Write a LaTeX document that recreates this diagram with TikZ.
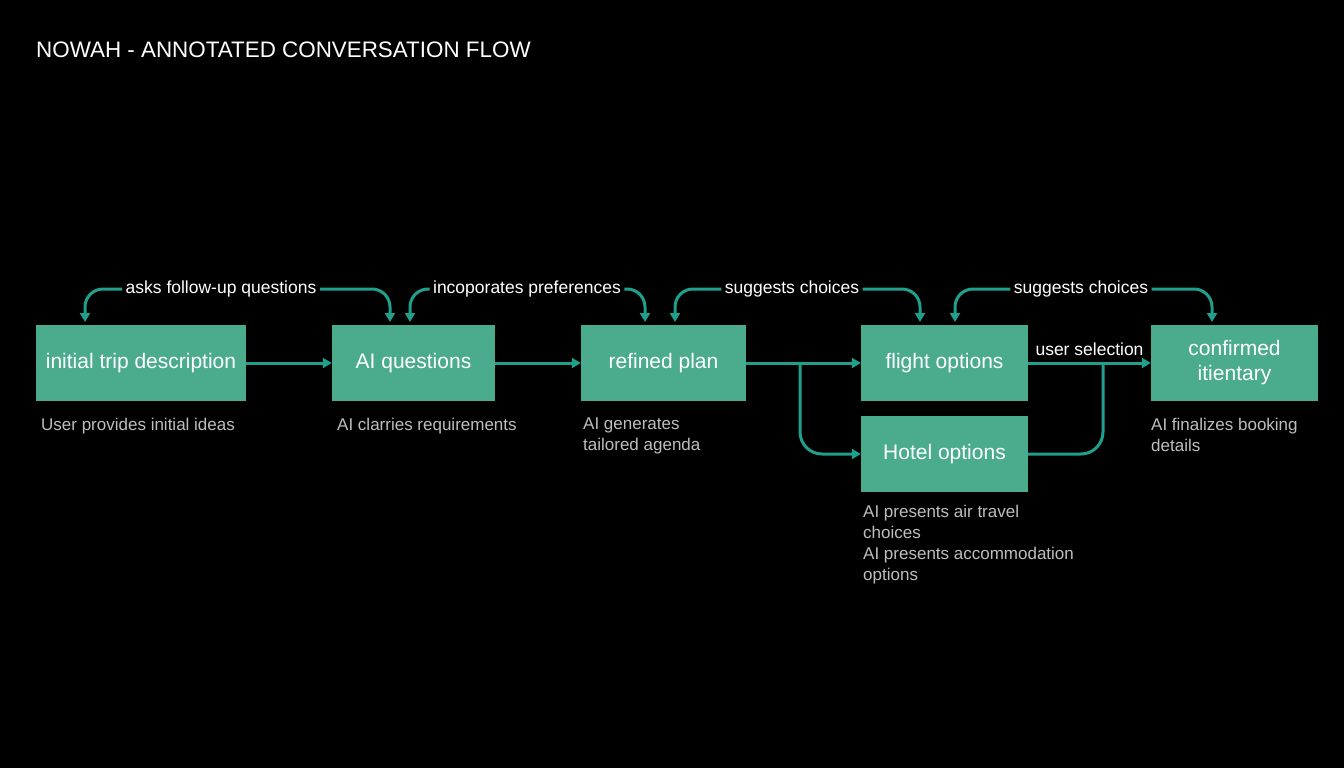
\documentclass[tikz,border=0pt]{standalone}
\usepackage{fontspec}
\setmainfont{Liberation Sans}
\usetikzlibrary{arrows.meta}
\definecolor{boxg}{RGB}{74,172,140}
\definecolor{arr}{RGB}{32,160,140}
\definecolor{desc}{RGB}{190,190,190}
\begin{document}
\begin{tikzpicture}[x=1pt,y=-1pt,
 box/.style={fill=boxg,text=white,minimum height=76pt,align=center,font=\fontsize{21}{25}\selectfont,inner sep=0pt},
 ar/.style={draw=arr,line width=3pt,-{Triangle[length=9pt,width=10pt]}},
 lab/.style={text=white,font=\fontsize{17.5}{20}\selectfont},
 ds/.style={text=desc,font=\fontsize{17}{21}\selectfont,align=left,anchor=north west,inner sep=0pt}]
\fill[black] (0,0) rectangle (1344,768);
\useasboundingbox (0,0) rectangle (1344,768);
\node[anchor=west,text=white,font=\fontsize{22.4}{26}\selectfont,inner sep=0pt] (title) at (36,50) {NOWAH - ANNOTATED CONVERSATION FLOW};
\node[box,minimum width=210pt] (A) at (141,363) {initial trip description};
\node[box,minimum width=163pt] (B) at (413.5,363) {AI questions};
\node[box,minimum width=165pt] (C) at (663.5,363) {refined plan};
\node[box,minimum width=167pt] (D) at (944.5,363) {flight options};
\node[box,minimum width=167pt] (E) at (944.5,454) {Hotel options};
\node[box,minimum width=167pt] (F) at (1234.5,363) {confirmed\\itientary};
\draw[ar] (A) -- (B);
\draw[ar] (B) -- (C);
\draw[ar] (C) -- (D);
\draw[ar] (D) -- node[lab,above=2pt] (us) {user selection} (F);
\draw[ar,rounded corners=22pt] (800,363) |- (E.west);
\draw[draw=arr,line width=3pt,rounded corners=22pt] (E.east) -| (1103,363);
% top loops
\node[lab] (l1) at (221,289) {asks follow-up questions};
\node[lab] (l2) at (527,289) {incoporates preferences};
\node[lab] (l3) at (792,289) {suggests choices};
\node[lab] (l4) at (1081,289) {suggests choices};
\foreach \l/\xa/\xb in {l1/85/390, l2/410/645, l3/675/920, l4/955/1212}{
 \draw[ar,rounded corners=18pt] (\l.west) -| (\xa,322);
 \draw[ar,rounded corners=18pt] (\l.east) -| (\xb,322);
}
\node[ds] (dA) at (41,418) {User provides initial ideas};
\node[ds] (dB) at (337,418) {AI clarries requirements};
\node[ds] (dC) at (583,418) {AI generates\\tailored agenda};
\node[ds] (dD) at (863,505) {AI presents air travel\\choices\\AI presents accommodation\\options};
\node[ds] (dF) at (1151,418) {AI finalizes booking\\details};
\end{tikzpicture}
\end{document}
